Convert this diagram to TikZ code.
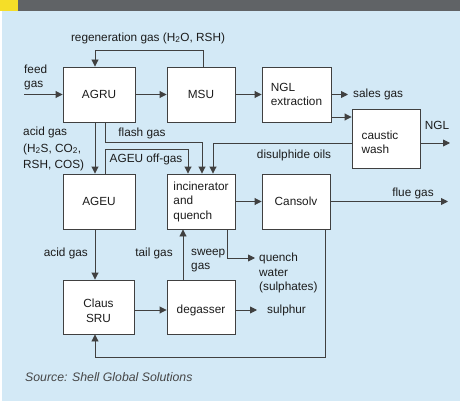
\documentclass[tikz,border=0pt]{standalone}
\usepackage{fontspec}
\setmainfont{Liberation Sans}
\usetikzlibrary{arrows.meta}
\definecolor{bgblue}{RGB}{211,233,246}
\definecolor{barcol}{RGB}{96,99,102}
\definecolor{yelcol}{RGB}{245,222,40}
\definecolor{lncol}{RGB}{64,64,64}
\definecolor{txtcol}{RGB}{28,28,28}
\definecolor{srccol}{RGB}{70,70,70}
\begin{document}
\begin{tikzpicture}[x=1pt,y=-1pt,
  font=\fontsize{11.8}{14.5}\selectfont,
  box/.style={draw=lncol, line width=0.9pt, fill=white, minimum width=68pt, minimum height=55pt, inner sep=0pt, text=txtcol, align=center},
  lbl/.style={inner sep=0pt, text=txtcol, align=left},
  arr/.style={draw=lncol, line width=0.9pt, -{Triangle[length=7pt,width=7pt]}},
  plain/.style={draw=lncol, line width=0.9pt}]
\useasboundingbox (0,0) rectangle (460,401);
\fill[white] (0,0) rectangle (460,401);
\fill[bgblue] (2,11) rectangle (460,401);
\fill[barcol] (0,0) rectangle (460,11);
\fill[yelcol] (0,0) rectangle (18,11);

% boxes
\node[box, minimum width=72pt] (agru) at (99,94.5) {AGRU};
\node[box] (msu) at (201,94.5) {MSU};
\node[box, minimum width=69pt, align=left] (ngl) at (296.5,94.5) {NGL\\extraction};
\node[box, minimum height=59pt] (cw) at (386,138.5) {};
\node[lbl] (cwt) at (380,142.5) {caustic\\wash};
\node[box, minimum width=72pt] (ageu) at (99,201.5) {AGEU};
\node[box, align=left] (inc) at (201,201.5) {incinerator\\and\\quench};
\node[box] (cans) at (296,201.5) {Cansolv};
\node[box, minimum width=71pt, minimum height=54pt] (claus) at (98.5,307) {};
\node[lbl, align=center] (claust) at (98.5,311) {Claus\\SRU};
\node[box, minimum height=54pt] (deg) at (201,307) {};
\node[lbl] (degt) at (201,310) {degasser};

% labels
\node[lbl] (regen) at (148,38) {regeneration gas (H\textsubscript{2}O, RSH)};
\node[lbl, anchor=west] (feed) at (24,77.5) {feed\\gas};
\node[lbl, anchor=west] (sales) at (353,94.5) {sales gas};
\node[lbl] (ngllbl) at (437,125) {NGL};
\node[lbl, anchor=west, font=\fontsize{11.8}{16.5}\selectfont] (acid1) at (23,149) {acid gas\\(H\textsubscript{2}S, CO\textsubscript{2},\\RSH, COS)};
\node[lbl] (flash) at (142,133) {flash gas};
\node[lbl] (offgas) at (146,159) {AGEU off-gas};
\node[lbl] (disul) at (294,155) {disulphide oils};
\node[lbl] (fluelbl) at (413,193) {flue gas};
\node[lbl, anchor=east] (acid2) at (88,253) {acid gas};
\node[lbl] (tail) at (154,253) {tail gas};
\node[lbl, anchor=west] (sweep) at (191,260.5) {sweep\\gas};
\node[lbl, anchor=west] (quench) at (259,273) {quench\\water\\(sulphates)};
\node[lbl, anchor=west] (sulphur) at (267,310) {sulphur};
\node[anchor=west, inner sep=0pt, text=srccol, font=\fontsize{12.3}{14}\selectfont\itshape] (src) at (25,377) {Source: Shell Global Solutions};

% free ends
\coordinate (feedin) at (24,94.5);
\coordinate (nglout) at (450,143);
\coordinate (flueout) at (448,201.5);
\coordinate (qw) at (255,258);

% connectors
\draw[arr] (feedin) -- (agru.west);
\draw[arr] (agru.east) -- (msu.west);
\draw[arr] (msu.east) -- (ngl.west);
\draw[arr] ([xshift=2pt]msu.north) -- ++(0,-16) -| ([xshift=-4pt]agru.north);
\draw[arr] (ngl.east) -- ([xshift=-5pt]sales.west);
\draw[arr] (ngl.east |- 0,117) -- (cw.west |- 0,117);
\draw[arr] (cw.east |- nglout) -- (nglout);
\draw[arr] (cw.west |- 0,143) -| ([xshift=12pt]inc.north);
\draw[arr] ([xshift=-4pt]agru.south) -- ([xshift=-4pt]ageu.north);
\draw[arr] ([xshift=6pt]agru.south) -- ++(0,20) -| ([xshift=1pt]inc.north);
\draw[arr] ([xshift=6pt]ageu.north) -- ++(0,-24) -| ([xshift=-13pt]inc.north);
\draw[arr] ([xshift=-4pt]ageu.south) -- ([xshift=-3.5pt]claus.north);
\draw[arr] (claus.east |- 0,310) -- (deg.west |- 0,310);
\draw[arr] (deg.east |- 0,310) -- ([xshift=-10pt]sulphur.west);
\draw[arr] ([xshift=-18pt]deg.north) -- ([xshift=-18pt]inc.south);
\draw[arr] ([xshift=26pt]inc.south) |- (qw);
\draw[arr] (inc.east) -- (cans.west);
\draw[arr] (cans.east) -- (flueout);
\draw[arr] ([xshift=29pt]cans.south) -- ++(0,128) -| ([xshift=-3.5pt]claus.south);
\end{tikzpicture}
\end{document}
